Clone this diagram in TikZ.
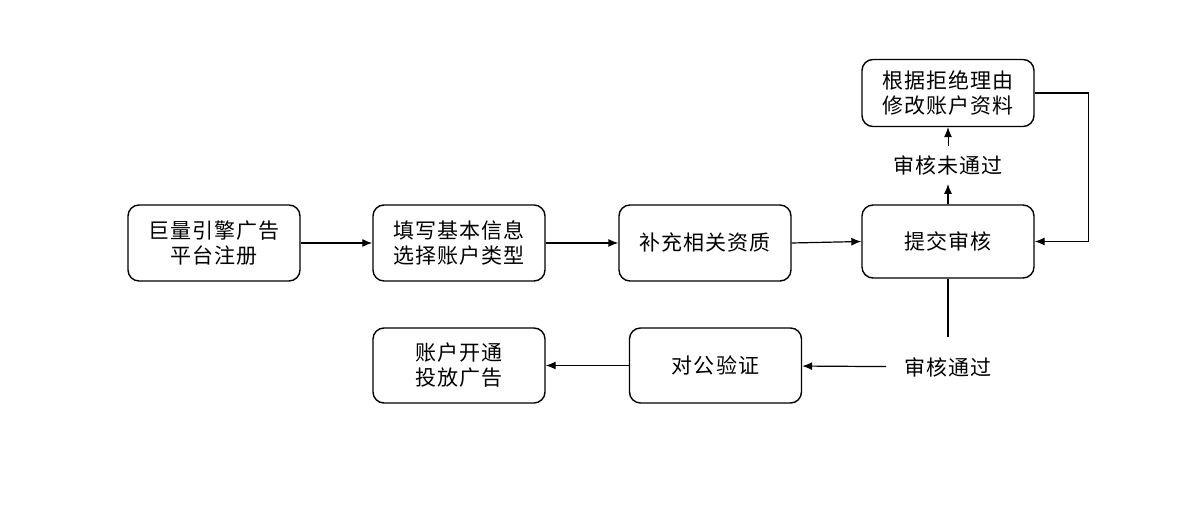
\documentclass[tikz,border=0pt]{standalone}
\usepackage{fontspec}
\setmainfont[LetterSpace=5]{Noto Sans CJK SC}
\usetikzlibrary{arrows.meta,calc}

\tikzset{
  flowbox/.style={draw,rounded corners=11pt,line width=1.4pt,minimum width=172pt,align=center,inner sep=0pt},
  flowtext/.style={align=center,inner sep=0pt},
  flowline/.style={line width=1.2pt}
}

\begin{document}
\begin{tikzpicture}[x=1pt,y=-1pt,>={Latex[length=10pt,width=8pt]},font=\fontsize{21}{25}\selectfont]
\useasboundingbox (0,0) rectangle (1200,510);

\node[flowbox,minimum height=76pt] (reg) at (214,243) {巨量引擎广告\\平台注册};
\node[flowbox,minimum height=76pt] (info) at (459,243) {填写基本信息\\选择账户类型};
\node[flowbox,minimum height=76pt] (qual) at (705,243) {补充相关资质};
\node[flowbox,minimum height=73pt] (submit) at (948,241.5) {提交审核};
\node[flowbox,minimum height=67pt] (modify) at (948,93) {根据拒绝理由\\修改账户资料};
\node[flowbox,minimum height=75pt] (verify) at (715.5,365.5) {对公验证};
\node[flowbox,minimum height=75pt] (open) at (459,365.5) {账户开通\\投放广告};

\node[flowtext,inner ysep=9pt] (fail) at (948,165) {审核未通过};
\node[flowtext,inner xsep=18pt,inner ysep=20pt] (pass) at (948,367) {审核通过};

\draw[flowline,->] (reg) -- (info);
\draw[flowline,->] (info) -- (qual);
\draw[flowline,->] (qual.east) -- (submit.west);
\draw[flowline,->] (submit) -- (fail);
\draw[flowline,->,line width=0.8pt] (fail) -- (modify);
\draw[flowline,->] (modify.east) -- ++(54,0) |- (submit.east);
\draw[flowline] (submit) -- (pass);
\draw[flowline,->] (pass) -- (verify);
\draw[flowline,->] (verify) -- (open);
\end{tikzpicture}
\end{document}
